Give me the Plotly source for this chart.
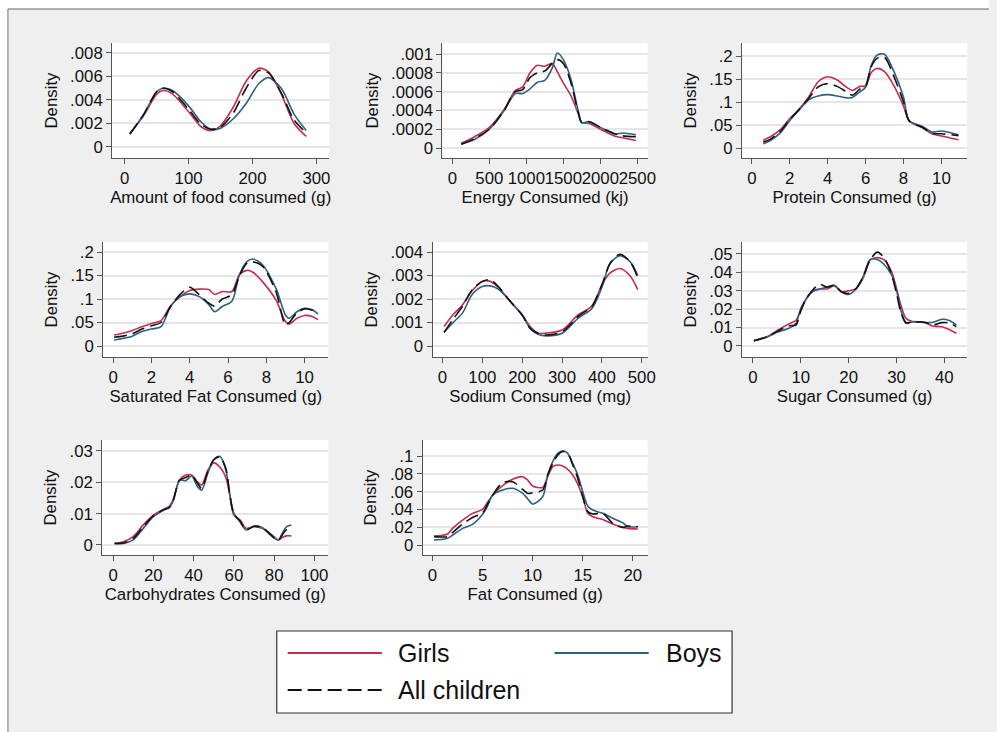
import plotly.graph_objects as go

W, H = 997, 732

# ---------------- data ----------------
food_x = [8, 30, 50, 60, 75, 100, 120, 135, 150, 170, 190, 210, 225, 245, 265, 284]
food_girls = [0.0011, 0.0027, 0.0045, 0.0048, 0.0045, 0.0030, 0.0017, 0.0014, 0.0018, 0.0034, 0.0056, 0.0067, 0.0064, 0.0045, 0.0020, 0.0009]
food_boys = [0.0011, 0.0028, 0.0047, 0.0050, 0.0048, 0.0035, 0.0021, 0.0015, 0.0016, 0.0024, 0.0037, 0.0054, 0.0059, 0.0050, 0.0028, 0.0014]
food_all = [0.0011, 0.0028, 0.0047, 0.0050, 0.0047, 0.0032, 0.0019, 0.0015, 0.0017, 0.0029, 0.0050, 0.0065, 0.0063, 0.0046, 0.0023, 0.0012]

energy_x = [120, 300, 500, 700, 850, 950, 1050, 1150, 1250, 1350, 1420, 1500, 1600, 1700, 1750, 1850, 2000, 2200, 2300, 2480]
energy_girls = [0.00005, 0.00012, 0.00022, 0.00041, 0.00061, 0.00065, 0.0008, 0.00088, 0.00087, 0.0009, 0.00081, 0.00069, 0.00056, 0.00037, 0.00027, 0.00026, 0.0002, 0.000125, 0.00011, 0.00008]
energy_boys = [0.00004, 0.00009, 0.0002, 0.0004, 0.00058, 0.00058, 0.00063, 0.0007, 0.00072, 0.00085, 0.00101, 0.00094, 0.00074, 0.0004, 0.00027, 0.00028, 0.00022, 0.00015, 0.00016, 0.00014]
energy_all = [0.00004, 0.0001, 0.0002, 0.0004, 0.0006, 0.00062, 0.00075, 0.0008, 0.00082, 0.0009, 0.00094, 0.0009, 0.0007, 0.00038, 0.00027, 0.00028, 0.00022, 0.00015, 0.00013, 0.00012]

protein_x = [0.6, 1, 1.5, 2, 2.5, 3, 3.5, 4, 4.5, 5, 5.3, 5.7, 6, 6.3, 6.6, 7, 7.5, 8, 8.3, 9, 9.5, 10, 10.9]
protein_girls = [0.017, 0.025, 0.04, 0.064, 0.085, 0.111, 0.144, 0.155, 0.148, 0.132, 0.125, 0.134, 0.135, 0.164, 0.173, 0.166, 0.135, 0.091, 0.059, 0.044, 0.031, 0.026, 0.018]
protein_boys = [0.009, 0.017, 0.033, 0.06, 0.083, 0.105, 0.113, 0.116, 0.113, 0.109, 0.11, 0.122, 0.132, 0.18, 0.202, 0.204, 0.166, 0.111, 0.059, 0.047, 0.035, 0.037, 0.029]
protein_all = [0.013, 0.02, 0.036, 0.062, 0.084, 0.108, 0.133, 0.14, 0.134, 0.122, 0.115, 0.128, 0.135, 0.177, 0.195, 0.197, 0.155, 0.1, 0.059, 0.045, 0.032, 0.031, 0.027]

satfat_x = [0.05, 0.5, 1, 1.5, 2, 2.5, 3, 3.5, 4, 4.5, 5, 5.3, 5.7, 6.2, 6.6, 7, 7.3, 7.8, 8.5, 9, 9.2, 9.6, 10, 10.4, 10.7]
satfat_girls = [0.0235, 0.027, 0.033, 0.041, 0.048, 0.054, 0.085, 0.105, 0.118, 0.121, 0.12, 0.11, 0.116, 0.116, 0.152, 0.161, 0.157, 0.137, 0.098, 0.052, 0.047, 0.059, 0.065, 0.063, 0.056]
satfat_boys = [0.0128, 0.016, 0.021, 0.031, 0.036, 0.041, 0.084, 0.105, 0.111, 0.105, 0.088, 0.073, 0.084, 0.095, 0.152, 0.18, 0.185, 0.173, 0.123, 0.066, 0.059, 0.073, 0.08, 0.077, 0.068]
satfat_all = [0.0185, 0.021, 0.026, 0.036, 0.043, 0.05, 0.084, 0.11, 0.125, 0.109, 0.091, 0.085, 0.1, 0.109, 0.15, 0.177, 0.179, 0.17, 0.116, 0.045, 0.05, 0.07, 0.079, 0.076, 0.07]

sodium_x = [4, 25, 50, 75, 100, 120, 140, 170, 200, 220, 240, 260, 300, 340, 375, 400, 420, 445, 470, 490]
sodium_girls = [0.00083, 0.0013, 0.00175, 0.00236, 0.00275, 0.00275, 0.0025, 0.0019, 0.00132, 0.00083, 0.00054, 0.00055, 0.00068, 0.00132, 0.0017, 0.0026, 0.0031, 0.0033, 0.003, 0.0024]
sodium_boys = [0.00058, 0.00097, 0.0014, 0.0022, 0.00253, 0.00256, 0.00242, 0.0019, 0.00132, 0.00075, 0.0005, 0.00043, 0.00054, 0.00118, 0.0016, 0.0025, 0.0035, 0.00384, 0.0036, 0.003]
sodium_all = [0.00058, 0.0011, 0.00168, 0.0024, 0.00275, 0.00282, 0.00253, 0.0019, 0.00132, 0.00075, 0.00054, 0.00047, 0.0006, 0.00125, 0.0017, 0.0026, 0.0035, 0.0039, 0.0036, 0.0029]

sugar_x = [0.2, 3, 5, 7.5, 9, 10, 11, 12.5, 14, 15.5, 17, 18.5, 20, 21.5, 23, 24.5, 26, 27.5, 29, 30, 31, 32, 33.5, 36, 37.5, 39.5, 41, 42.5]
sugar_girls = [0.0029, 0.005, 0.0083, 0.012, 0.014, 0.0195, 0.025, 0.0295, 0.031, 0.031, 0.0326, 0.0295, 0.03, 0.031, 0.0367, 0.0467, 0.048, 0.0467, 0.0403, 0.0313, 0.0214, 0.015, 0.0132, 0.0128, 0.0109, 0.0105, 0.009, 0.0069]
sugar_boys = [0.0029, 0.005, 0.0074, 0.0096, 0.0123, 0.0205, 0.025, 0.03, 0.031, 0.032, 0.033, 0.0295, 0.028, 0.031, 0.0376, 0.047, 0.047, 0.044, 0.0385, 0.0304, 0.0186, 0.0123, 0.0132, 0.0128, 0.0128, 0.0145, 0.0138, 0.0114]
sugar_all = [0.0029, 0.005, 0.0078, 0.011, 0.0114, 0.019, 0.025, 0.0304, 0.0335, 0.032, 0.033, 0.0295, 0.0286, 0.031, 0.0373, 0.0467, 0.051, 0.0476, 0.0385, 0.0286, 0.0177, 0.0127, 0.0132, 0.0128, 0.0114, 0.0127, 0.0125, 0.0105]

carb_x = [0.8, 5, 10, 15, 20, 25, 28, 30, 33, 36, 39, 42, 44, 47, 50, 53, 56, 58, 60, 63, 66, 70, 74, 78, 82, 84, 86, 88.5]
carb_girls = [0.0005, 0.001, 0.0027, 0.0064, 0.0095, 0.0113, 0.0124, 0.0148, 0.0207, 0.0223, 0.0223, 0.0201, 0.0191, 0.0238, 0.0262, 0.0249, 0.0215, 0.0159, 0.0095, 0.008, 0.0053, 0.0058, 0.0053, 0.0037, 0.0016, 0.0024, 0.0029, 0.0029]
carb_boys = [0.0005, 0.0005, 0.0016, 0.0053, 0.009, 0.0111, 0.012, 0.0143, 0.0207, 0.0205, 0.022, 0.0185, 0.0175, 0.0228, 0.0272, 0.0283, 0.0239, 0.0159, 0.0101, 0.0074, 0.0048, 0.006, 0.0056, 0.0032, 0.0016, 0.0037, 0.0058, 0.0064]
carb_all = [0.0005, 0.0006, 0.0021, 0.0058, 0.0093, 0.0112, 0.012, 0.0145, 0.0207, 0.0215, 0.0223, 0.0196, 0.018, 0.0233, 0.0272, 0.0281, 0.0244, 0.0159, 0.0099, 0.0077, 0.0048, 0.006, 0.0056, 0.0035, 0.0014, 0.0032, 0.0048, 0.0053]

fat_x = [0.15, 1, 1.5, 2, 3, 4, 5, 5.5, 6, 7, 8, 9, 9.5, 10, 11, 11.5, 12, 12.5, 13, 13.5, 14, 14.5, 15, 15.5, 16, 17, 18, 19, 19.5, 20.5]
fat_girls = [0.0101, 0.011, 0.0124, 0.0187, 0.028, 0.0356, 0.04, 0.048, 0.056, 0.0667, 0.074, 0.0768, 0.073, 0.0663, 0.0648, 0.0768, 0.088, 0.0899, 0.0888, 0.085, 0.0786, 0.0685, 0.0543, 0.0356, 0.0318, 0.0288, 0.0236, 0.0198, 0.0187, 0.018]
fat_boys = [0.0056, 0.0064, 0.0075, 0.011, 0.0187, 0.0232, 0.0345, 0.044, 0.056, 0.0618, 0.0637, 0.058, 0.052, 0.046, 0.0543, 0.0786, 0.0936, 0.103, 0.106, 0.103, 0.0917, 0.0786, 0.06, 0.0438, 0.0393, 0.0356, 0.03, 0.025, 0.0206, 0.0206]
fat_all = [0.0094, 0.009, 0.0094, 0.014, 0.0236, 0.031, 0.036, 0.046, 0.056, 0.07, 0.071, 0.0625, 0.058, 0.0588, 0.0618, 0.0786, 0.0917, 0.101, 0.105, 0.103, 0.09, 0.075, 0.0543, 0.0375, 0.0348, 0.0356, 0.0243, 0.0198, 0.0213, 0.0206]

# tick values / labels
food_xticks = [0, 100, 200, 300]
food_yticks = [0, 0.002, 0.004, 0.006, 0.008]
food_ylabels = ["0", ".002", ".004", ".006", ".008"]
energy_xticks = [0, 500, 1000, 1500, 2000, 2500]
energy_yticks = [0, 0.0002, 0.0004, 0.0006, 0.0008, 0.001]
energy_ylabels = ["0", ".0002", ".0004", ".0006", ".0008", ".001"]
protein_xticks = [0, 2, 4, 6, 8, 10]
protein_yticks = [0, 0.05, 0.1, 0.15, 0.2]
protein_ylabels = ["0", ".05", ".1", ".15", ".2"]
satfat_xticks = [0, 2, 4, 6, 8, 10]
satfat_yticks = [0, 0.05, 0.1, 0.15, 0.2]
satfat_ylabels = ["0", ".05", ".1", ".15", ".2"]
sodium_xticks = [0, 100, 200, 300, 400, 500]
sodium_yticks = [0, 0.001, 0.002, 0.003, 0.004]
sodium_ylabels = ["0", ".001", ".002", ".003", ".004"]
sugar_xticks = [0, 10, 20, 30, 40]
sugar_yticks = [0, 0.01, 0.02, 0.03, 0.04, 0.05]
sugar_ylabels = ["0", ".01", ".02", ".03", ".04", ".05"]
carb_xticks = [0, 20, 40, 60, 80, 100]
carb_yticks = [0, 0.01, 0.02, 0.03]
carb_ylabels = ["0", ".01", ".02", ".03"]
fat_xticks = [0, 5, 10, 15, 20]
fat_yticks = [0, 0.02, 0.04, 0.06, 0.08, 0.1]
fat_ylabels = ["0", ".02", ".04", ".06", ".08", ".1"]

series_names = ["Girls", "Boys", "All children"]

panels = [
    dict(title="Amount of food consumed (g)", x=food_x, g=food_girls, b=food_boys, a=food_all,
         xt=food_xticks, yt=food_yticks, yl=food_ylabels),
    dict(title="Energy Consumed (kj)", x=energy_x, g=energy_girls, b=energy_boys, a=energy_all,
         xt=energy_xticks, yt=energy_yticks, yl=energy_ylabels),
    dict(title="Protein Consumed (g)", x=protein_x, g=protein_girls, b=protein_boys, a=protein_all,
         xt=protein_xticks, yt=protein_yticks, yl=protein_ylabels),
    dict(title="Saturated Fat Consumed (g)", x=satfat_x, g=satfat_girls, b=satfat_boys, a=satfat_all,
         xt=satfat_xticks, yt=satfat_yticks, yl=satfat_ylabels),
    dict(title="Sodium Consumed (mg)", x=sodium_x, g=sodium_girls, b=sodium_boys, a=sodium_all,
         xt=sodium_xticks, yt=sodium_yticks, yl=sodium_ylabels),
    dict(title="Sugar Consumed (g)", x=sugar_x, g=sugar_girls, b=sugar_boys, a=sugar_all,
         xt=sugar_xticks, yt=sugar_yticks, yl=sugar_ylabels),
    dict(title="Carbohydrates Consumed (g)", x=carb_x, g=carb_girls, b=carb_boys, a=carb_all,
         xt=carb_xticks, yt=carb_yticks, yl=carb_ylabels),
    dict(title="Fat Consumed (g)", x=fat_x, g=fat_girls, b=fat_boys, a=fat_all,
         xt=fat_xticks, yt=fat_yticks, yl=fat_ylabels),
]

# ---------------- layout / style ----------------
# pixel boxes of each plot region (left, right, top, bottom) and axis ranges
boxes = [
    (113, 332, 43, 158), (446, 653, 43, 158), (748, 975, 43, 158),
    (104, 331, 242, 357), (436, 653, 242, 357), (748, 975, 242, 357),
    (103, 331, 440, 555), (426, 653, 440, 555),
]
xranges = [[-19.7, 320.2], [-134, 2641], [-0.52, 11.36], [-0.52, 11.24],
           [-24.9, 515], [-2.28, 44.77], [-5.4, 106.9], [-0.99, 21.49]]
yranges = [[-0.00094, 0.00885], [-0.000106, 0.001117], [-0.0217, 0.2283], [-0.0234, 0.2213],
           [-0.000468, 0.004426], [-0.00598, 0.0565], [-0.0032, 0.0335], [-0.0112, 0.118]]

RED = "#c42d4f"
BLUE = "#2f5f80"
BLACK = "#111111"
FONT = "Liberation Sans, Arial, sans-serif"
AXC = "#555555"
GRID = "#e6e6e6"
FS = 16.8

fig = go.Figure()
layout = {}

for i, p in enumerate(panels):
    n = "" if i == 0 else str(i + 1)
    xa, ya = "x" + n, "y" + n
    styles = [(p["g"], RED, "solid", series_names[0]),
              (p["b"], BLUE, "solid", series_names[1]),
              (p["a"], BLACK, "13px,6px", series_names[2])]
    for vals, col, dash, nm in styles:
        fig.add_trace(go.Scatter(
            x=p["x"], y=vals, mode="lines", name=nm, showlegend=False,
            line=dict(color=col, width=1.6, dash=dash, shape="spline", smoothing=0.8),
            xaxis=xa, yaxis=ya, hoverinfo="skip"))
    l, r, t, b = boxes[i]
    layout["xaxis" + n] = dict(
        domain=[l / W, r / W], anchor=ya, range=xranges[i],
        tickmode="array", tickvals=p["xt"], ticktext=[str(v) for v in p["xt"]],
        tickangle=0, ticks="outside", ticklen=5, tickcolor=AXC, tickwidth=1,
        showline=True, linecolor=AXC, linewidth=1, showgrid=False, zeroline=False,
        tickfont=dict(family=FONT, size=FS, color=BLACK),
        title=dict(text=p["title"], font=dict(family=FONT, size=FS, color=BLACK), standoff=0),
    )
    layout["yaxis" + n] = dict(
        domain=[1 - b / H, 1 - t / H], anchor=xa, range=yranges[i],
        tickmode="array", tickvals=p["yt"], ticktext=p["yl"],
        ticks="outside", ticklen=5, tickcolor=AXC, tickwidth=1,
        showline=True, linecolor=AXC, linewidth=1,
        showgrid=True, gridcolor=GRID, gridwidth=1.5, zeroline=False,
        tickfont=dict(family=FONT, size=FS, color=BLACK),
        title=dict(text="Density", font=dict(family=FONT, size=FS, color=BLACK), standoff=8),
    )


def px(x):
    return x / W


def py(y):
    return 1 - y / H


shapes = [
    # white margins outside the graph frame
    dict(type="rect", xref="paper", yref="paper", x0=0, x1=1, y0=py(9), y1=1,
         fillcolor="white", line=dict(width=0), layer="below"),
    dict(type="rect", xref="paper", yref="paper", x0=0, x1=px(8), y0=0, y1=1,
         fillcolor="white", line=dict(width=0), layer="below"),
    # frame lines
    dict(type="line", xref="paper", yref="paper", x0=px(8), x1=1, y0=py(9), y1=py(9),
         line=dict(color="#666666", width=1.2)),
    dict(type="line", xref="paper", yref="paper", x0=px(8), x1=px(8), y0=py(9), y1=0,
         line=dict(color="#888888", width=1.2)),
    # legend box
    dict(type="rect", xref="paper", yref="paper", x0=px(279), x1=px(738), y0=py(713), y1=py(631),
         fillcolor="white", line=dict(color="#333333", width=1.2)),
    # legend keys
    dict(type="line", xref="paper", yref="paper", x0=px(290), x1=px(385), y0=py(653), y1=py(653),
         line=dict(color=RED, width=2)),
    dict(type="line", xref="paper", yref="paper", x0=px(559), x1=px(654), y0=py(653), y1=py(653),
         line=dict(color=BLUE, width=2)),
    dict(type="line", xref="paper", yref="paper", x0=px(290), x1=px(385), y0=py(690), y1=py(690),
         line=dict(color=BLACK, width=2, dash="14px,6px")),
]

LFS = 25
annotations = [
    dict(text=series_names[0], x=px(399), y=py(653), xref="paper", yref="paper",
         xanchor="left", yanchor="middle", showarrow=False,
         font=dict(family=FONT, size=LFS, color=BLACK)),
    dict(text=series_names[1], x=px(669), y=py(653), xref="paper", yref="paper",
         xanchor="left", yanchor="middle", showarrow=False,
         font=dict(family=FONT, size=LFS, color=BLACK)),
    dict(text=series_names[2], x=px(399), y=py(690), xref="paper", yref="paper",
         xanchor="left", yanchor="middle", showarrow=False,
         font=dict(family=FONT, size=LFS, color=BLACK)),
]

fig.update_layout(
    width=W, height=H, margin=dict(l=0, r=0, t=0, b=0),
    paper_bgcolor="#efefef", plot_bgcolor="white",
    showlegend=False, shapes=shapes, annotations=annotations,
    font=dict(family=FONT, size=FS, color=BLACK),
    **layout,
)

fig.write_html("out.html", config={"displayModeBar": False},
               post_script="document.body.style.margin='0';document.body.style.overflow='hidden';")
